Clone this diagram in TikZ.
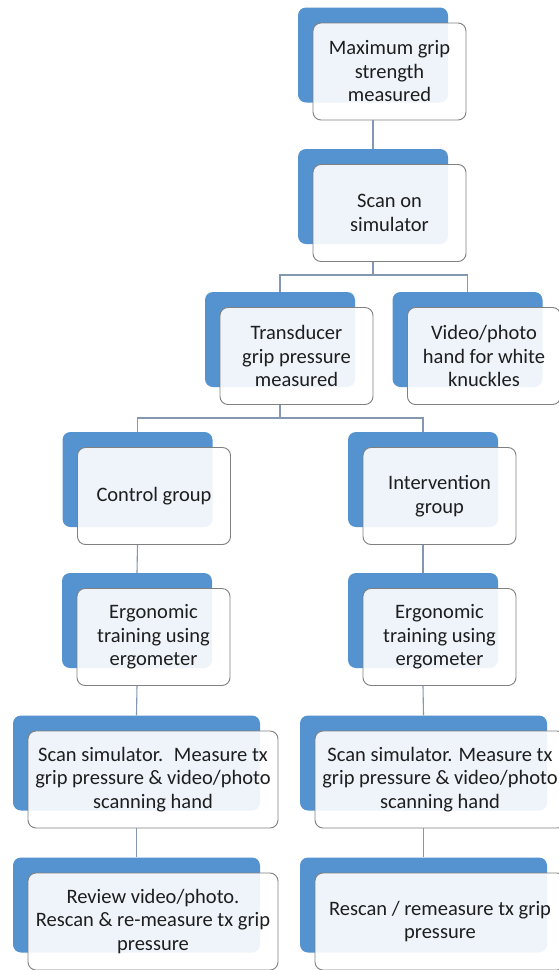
\documentclass[tikz,border=0pt]{standalone}
\usepackage{fontspec}
\setmainfont{Carlito}
\definecolor{stepblue}{RGB}{84,146,208}
\definecolor{framegray}{RGB}{128,128,128}
\definecolor{linkgray}{RGB}{132,151,176}
\definecolor{txt}{RGB}{30,30,30}
\tikzset{
  backbox/.style={fill=stepblue, draw=none, rounded corners=8pt, inner sep=0pt, minimum height=95pt},
  frontbox/.style={fill=white, fill opacity=0.9, text opacity=1, draw=framegray, line width=0.9pt,
     rounded corners=8pt, inner sep=0pt, minimum height=97pt, align=center, text=txt,
     font=\fontsize{20.5}{23.5}\selectfont},
  link/.style={draw=linkgray, line width=1.1pt}
}
% #1 id, #2 cx, #3 cy, #4 width of back box, #5 text
\newcommand{\flowstep}[5]{%
  \node[backbox, minimum width=#4pt] (b#1) at (#2,#3) {};
  \pgfmathsetmacro{\fw}{#4+3}%
  \node[frontbox, minimum width=\fw pt] (w#1) at ([xshift=16.5pt,yshift=-16.5pt]b#1.center) {#5};
}
\begin{document}
\begin{tikzpicture}[x=1pt,y=-1pt]
\fill[white] (0,0) rectangle (559,970);
\useasboundingbox (0,0) rectangle (559,970);
\coordinate (j1) at (373,275);
\coordinate (j2) at (280,418);

\flowstep{1}{373}{55}{150}{Maximum grip\\strength\\measured}
\flowstep{2}{373}{196.5}{150}{Scan on\\simulator}
\flowstep{3}{280}{339.5}{150}{Transducer\\grip pressure\\measured}
\flowstep{4}{467.5}{339.5}{150}{Video/photo\\hand for white\\knuckles}
\flowstep{5}{137.5}{479.5}{150}{Control group}
\flowstep{6}{423}{479.5}{150}{Intervention\\group}
\flowstep{7}{137}{620.5}{150}{Ergonomic\\training using\\ergometer}
\flowstep{8}{423}{620.5}{150}{Ergonomic\\training using\\ergometer}
\flowstep{9}{136.5}{763}{247}{Scan simulator.~ Measure tx\\grip pressure \& video/photo\\scanning hand}
\flowstep{10}{423.5}{763}{247}{Scan simulator. Measure tx\\grip pressure \& video/photo\\scanning hand}
\flowstep{11}{136.5}{905}{247}{Review video/photo.\\Rescan \& re-measure tx grip\\pressure}
\flowstep{12}{423.5}{905}{247}{Rescan / remeasure tx grip\\pressure}

\draw[link] (b1.south |- w1.south) -- (b2.north);
\draw[link] (b2.south |- w2.south) -- (j1);
\draw[link] (b3.north) |- (j1) -| (b4.north);
\draw[link] (b3.south |- w3.south) -- (j2);
\draw[link] (b5.north) |- (j2) -| (b6.north);
\draw[link] (b5.south |- w5.south) -- (b7.north);
\draw[link] (b6.south |- w6.south) -- (b8.north);
\draw[link] (b7.south |- w7.south) -- (b9.north);
\draw[link] (b8.south |- w8.south) -- (b10.north);
\draw[link] (b9.south |- w9.south) -- (b11.north);
\draw[link] (b10.south |- w10.south) -- (b12.north);
\end{tikzpicture}
\end{document}
